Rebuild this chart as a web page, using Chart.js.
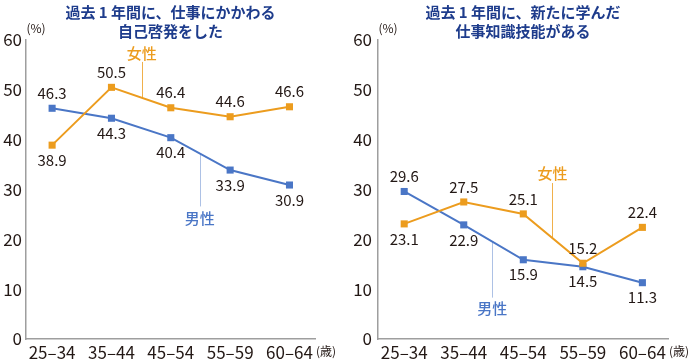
<!DOCTYPE html>
<html><head><meta charset="utf-8">
<script src="https://cdn.jsdelivr.net/npm/chart.js@4"></script>
<style>
html,body{margin:0;padding:0;background:#fff;}
#wrap{display:flex;width:690px;height:360px;}
canvas{display:block;}
</style></head><body>
<div id="wrap"><canvas id="c1" width="345" height="360"></canvas><canvas id="c2" width="345" height="360"></canvas></div>
<script>
// ---- data ----
const categories = ['25–34','35–44','45–54','55–59','60–64'];
const yTickMin = 0, yTickMax = 60, yTickStep = 10;
const selfDevFemale = [38.9, 50.5, 46.4, 44.6, 46.6];
const selfDevMale   = [46.3, 44.3, 40.4, 33.9, 30.9];
const learnFemale   = [23.1, 27.5, 25.1, 15.2, 22.4];
const learnMale     = [29.6, 22.9, 15.9, 14.5, 11.3];
const titleSelfDev = ['過去 1 年間に、仕事にかかわる', '自己啓発をした'];
const titleLearn   = ['過去 1 年間に、新たに学んだ', '仕事知識技能がある'];
const seriesNames = ['女性', '男性'];
const unitY = '(%)', unitX = '(歳)';

// ---- style ----
const FONT = '"Noto Sans CJK JP","Noto Sans",sans-serif';
const ORANGE = '#EC9C1E', BLUE = '#4A76C6', NAVY = '#1E3C8C', AXIS = '#9E9E9E', TEXT = '#231815';
const ORANGE_LEAD = 'rgba(236,156,30,0.8)', BLUE_LEAD = 'rgba(74,118,198,0.45)';

const deco = {
  id: 'deco',
  beforeDatasetsDraw(chart, args, opts) {
    const {ctx, scales: {x, y}} = chart;
    const ds = chart.data.datasets;
    ctx.save();
    opts.callouts.forEach(c => {
      const d = ds[c.ds].data;
      const i0 = Math.floor(c.at), f = c.at - i0;
      const lineVal = d[i0].y + (d[i0 + 1].y - d[i0].y) * f;
      const px = Math.round(x.getPixelForValue(c.at)) + 0.5;
      ctx.strokeStyle = c.lead; ctx.lineWidth = 1;
      ctx.beginPath();
      ctx.moveTo(px, y.getPixelForValue(lineVal));
      ctx.lineTo(px, y.getPixelForValue(c.leadTo));
      ctx.stroke();
    });
    ctx.restore();
  },
  afterDatasetsDraw(chart, args, opts) {
    const {ctx, scales: {x, y}, chartArea: ca} = chart;
    const ds = chart.data.datasets;
    ctx.save();
    ctx.textAlign = 'center'; ctx.textBaseline = 'middle';
    // title
    ctx.fillStyle = NAVY; ctx.font = `bold 15px ${FONT}`;
    const cx = (ca.left + ca.right) / 2;
    opts.title.forEach((t, i) => ctx.fillText(t, cx, 12 + i * 19));
    // units
    ctx.fillStyle = TEXT; ctx.font = `12px ${FONT}`;
    ctx.fillText(unitY, ca.left + 10, 28);
    ctx.textAlign = 'left';
    ctx.fillText(unitX, ca.right + 1, 351);
    // value labels
    ctx.textAlign = 'center';
    ctx.font = `15px ${FONT}`; ctx.fillStyle = TEXT;
    ds.forEach((d, di) => {
      const meta = chart.getDatasetMeta(di);
      d.data.forEach((pt, i) => {
        const above = ds.every((o, k) => k === di || pt.y >= o.data[i].y);
        const p = meta.data[i];
        ctx.fillText(pt.y.toFixed(1), p.x, p.y + (above ? -15 : 15));
      });
    });
    // series names
    opts.callouts.forEach(c => {
      ctx.fillStyle = c.color; ctx.font = `500 15px ${FONT}`;
      ctx.fillText(seriesNames[c.ds], x.getPixelForValue(c.at), y.getPixelForValue(c.labelY));
    });
    ctx.restore();
  }
};

function makeChart(id, female, male, title, yWidth, padRight, tickPad, callouts) {
  const toPts = arr => arr.map((v, i) => ({x: i, y: v}));
  return new Chart(document.getElementById(id), {
    type: 'line',
    data: {
      datasets: [
        {data: toPts(female), borderColor: ORANGE, backgroundColor: ORANGE, borderWidth: 2,
         pointStyle: 'rect', pointRadius: 5, pointBorderWidth: 0, tension: 0},
        {data: toPts(male), borderColor: BLUE, backgroundColor: BLUE, borderWidth: 2,
         pointStyle: 'rect', pointRadius: 5, pointBorderWidth: 0, tension: 0}
      ]
    },
    options: {
      responsive: false, animation: false, devicePixelRatio: 1,
      layout: {padding: {top: 40, right: padRight, bottom: 0, left: 0}},
      plugins: {legend: {display: false}, tooltip: {enabled: false},
        deco: {title: title, callouts: callouts}},
      scales: {
        x: {type: 'linear', min: -0.44, max: 4.43,
          grid: {display: false, drawTicks: false},
          border: {display: true, color: AXIS, width: 1.5},
          afterBuildTicks: s => { s.ticks = categories.map((_, i) => ({value: i})); },
          afterFit: s => { s.height = 21; },
          ticks: {padding: 3, color: TEXT, font: {family: FONT, size: 17}, maxRotation: 0, autoSkip: false,
            callback: v => categories[v] ?? ''}
        },
        y: {min: yTickMin, max: yTickMax,
          grid: {display: false, drawTicks: false},
          border: {display: true, color: AXIS, width: 1.5},
          afterFit: s => { s.width = yWidth; },
          ticks: {stepSize: yTickStep, padding: tickPad, color: TEXT, font: {family: FONT, size: 17}}
        }
      }
    },
    plugins: [deco]
  });
}

makeChart('c1', selfDevFemale, selfDevMale, titleSelfDev, 26, 30, 4, [
  {ds: 0, at: 1.51, labelY: 57.4, leadTo: 55.6, color: ORANGE, lead: ORANGE_LEAD},
  {ds: 1, at: 2.49, labelY: 24.3, leadTo: 26.6, color: BLUE, lead: BLUE_LEAD}
]);
makeChart('c2', learnFemale, learnMale, titleLearn, 33, 22, 6, [
  {ds: 0, at: 2.49, labelY: 33.3, leadTo: 31.3, color: ORANGE, lead: ORANGE_LEAD},
  {ds: 1, at: 1.48, labelY: 6.2, leadTo: 8.3, color: BLUE, lead: BLUE_LEAD}
]);
</script>
</body></html>
